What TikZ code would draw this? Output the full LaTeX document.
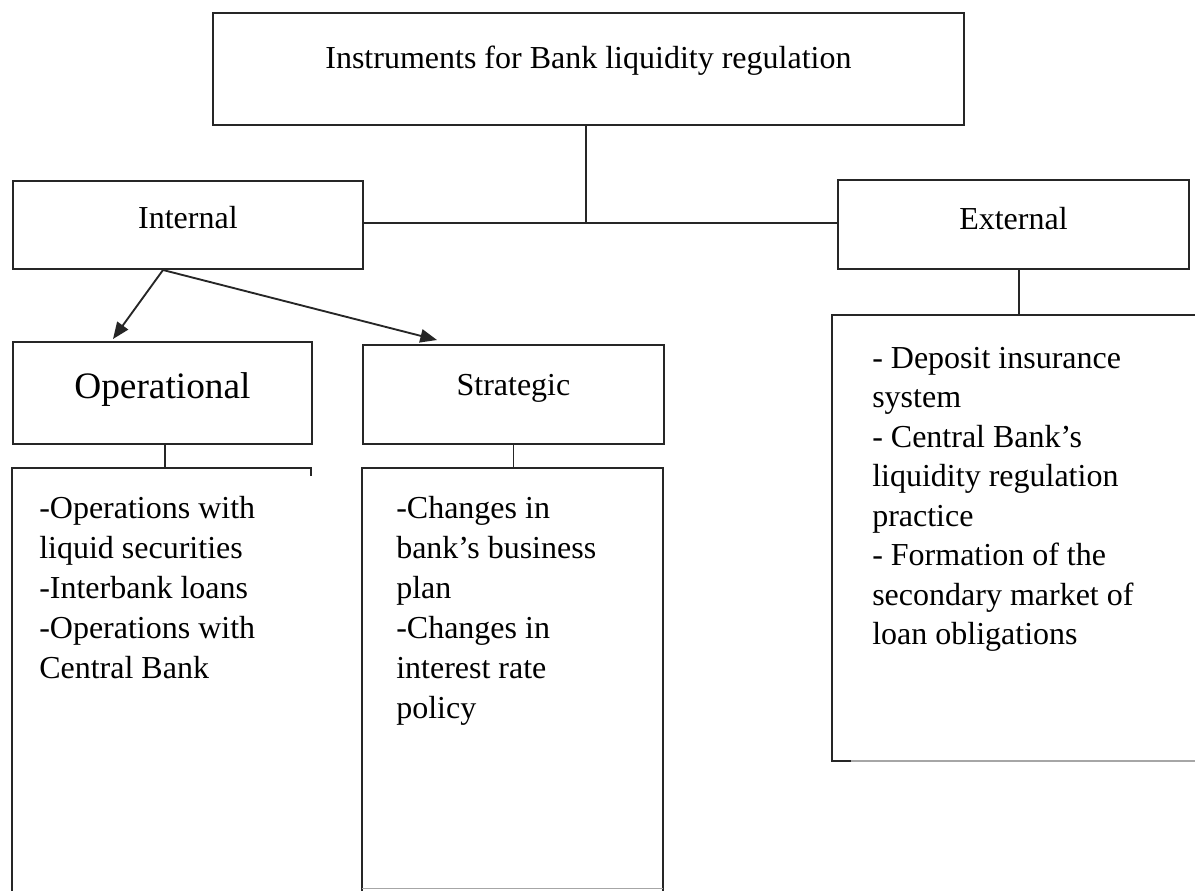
\documentclass[tikz,border=0pt]{standalone}
\usepackage{fontspec}
\setmainfont{Liberation Serif}
\usetikzlibrary{arrows.meta}
\newdimen\px \px=0.75pt
\begin{document}
\begin{tikzpicture}[x=0.75pt,y=-0.75pt,
  box/.style={draw=black!85, line width=1.4pt, inner sep=0pt, anchor=north west,
              font=\fontsize{24}{30}\selectfont},
  edge/.style={draw=black!85, line width=1.4pt},
  faint/.style={draw=black!35, line width=1pt},
  arr/.style={edge, -{Triangle[length=12.5pt,width=10pt]}},
  list/.style={anchor=base west, inner sep=0pt, align=left,
               font=\fontsize{24}{30}\selectfont}]
\useasboundingbox (0,0) rectangle (1195,890);

% boxes
\node[box, minimum width=751\px, text height=56\px, text depth=56\px] (top) at (212,12)
  {Instruments for Bank liquidity regulation};
\node[box, minimum width=350\px, text height=48\px, text depth=40\px] (int) at (12,180)
  {Internal};
\node[box, minimum width=351\px, text height=50\px, text depth=39\px] (ext) at (837,179)
  {External};
\node[box, minimum width=299\px, text height=57\px, text depth=45\px,
      font=\fontsize{28}{34}\selectfont] (op) at (12,341) {Operational};
\node[box, minimum width=301\px, text height=51\px, text depth=48\px] (st) at (362,344)
  {Strategic};

% connectors at top
\coordinate (j) at (586,223);
\draw[edge] (top.south -| j) -- (j);
\draw[edge] (int.east |- j) -- (ext.west |- j);

% arrows
\coordinate (split) at (163,270);
\coordinate (tipA) at (113,339);
\coordinate (tipB) at (437,340);
\draw[arr] (split) -- (tipA);
\draw[arr] (split) -- (tipB);

% left list box
\coordinate (ltl) at (12,468);
\coordinate (lx) at (165,468);
\draw[edge] (311,476) -- (311,468) -- (ltl) -- (12,891);
\draw[edge] (op.south -| lx) -- (lx);

% middle list box
\coordinate (mtl) at (362,468);
\draw[edge] (362,891) -- (mtl) -- (663,468) -- (663,891);
\draw[faint] (362,888.5) -- (663,888.5);
\draw[edge] (st.south) -- (st.south |- mtl);

% right list box
\coordinate (rtl) at (832,315);
\coordinate (rx) at (1019,315);
\draw[edge] (1196,315) -- (rtl) -- (832,761) -- (851,761);
\draw[faint] (851,761) -- (1196,761);
\draw[edge] (ext.south -| rx) -- (rx);

% texts (base anchor = baseline of the last line)
\node[list] (ltext) at (39,678)
  {-Operations with\\liquid securities\\-Interbank loans\\-Operations with\\Central Bank};
\node[list] (mtext) at (396,718)
  {-Changes in\\bank’s business\\plan\\-Changes in\\interest rate\\policy};
\node[list, font=\fontsize{24}{29.6}\selectfont] (rtext) at (872,644.5)
  {- Deposit insurance\\system\\- Central Bank’s\\liquidity regulation\\practice\\- Formation of the\\secondary market of\\loan obligations};
\end{tikzpicture}
\end{document}
